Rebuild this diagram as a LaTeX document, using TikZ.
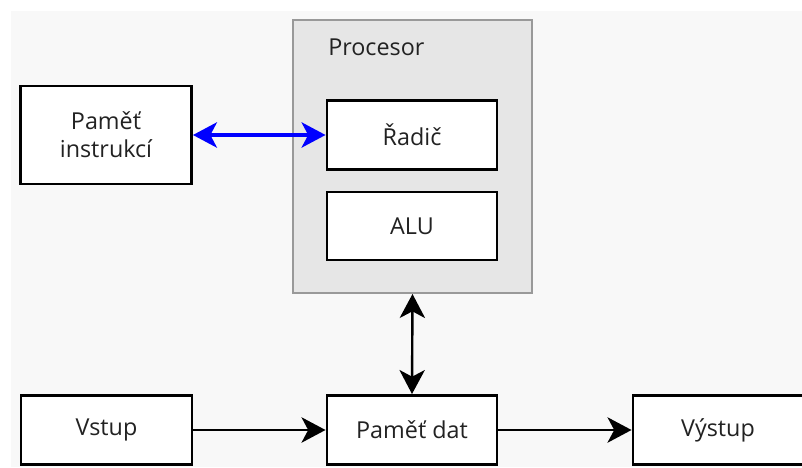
\documentclass[tikz,border=0pt]{standalone}
\usepackage{fontspec}
\setmainfont{Open Sans}
\usetikzlibrary{arrows.meta}
\definecolor{bgc}{HTML}{F8F8F8}
\definecolor{procfill}{HTML}{E6E6E6}
\definecolor{procline}{HTML}{999999}
\definecolor{txt}{HTML}{222222}
\begin{document}
\begin{tikzpicture}[x=0.75pt,y=-0.75pt,
  lbl/.style={font=\fontsize{17.5}{21}\selectfont,text=txt},
  blk/.style={draw=black,fill=white,line width=2.2pt,inner sep=0pt,lbl,align=center},
  conn/.style={line width=2pt,-{Stealth[length=18pt,width=19pt,inset=5pt]}},
  biconn/.style={line width=1.8pt,{Stealth[length=18pt,width=19pt,inset=5pt]}-{Stealth[length=18pt,width=19pt,inset=5pt]}}]
\useasboundingbox (0,0) rectangle (802,467);
\fill[white] (0,0) rectangle (802,467);
\fill[bgc] (11,11) rectangle (802,467);
\node[draw=procline,fill=procfill,line width=1.5pt,minimum width=239*0.75pt,minimum height=273*0.75pt,inner sep=0pt] (proc) at (412.5,156.5) {};
\node[anchor=west,lbl,inner sep=0pt] (proclbl) at (328,47) {Procesor};
\node[blk,minimum width=171*0.75pt,minimum height=98*0.75pt] (pi) at (106,135) {Paměť\\instrukcí};
\node[blk,minimum width=170*0.75pt,minimum height=69*0.75pt] (radic) at (412,135) {Řadič};
\node[blk,minimum width=170*0.75pt,minimum height=68*0.75pt] (alu) at (412,226) {ALU};
\node[blk,minimum width=171*0.75pt,minimum height=69*0.75pt] (vstup) at (106.5,430) {Vstup};
\node[blk,minimum width=170*0.75pt,minimum height=69*0.75pt] (pd) at (412,430) {Paměť dat};
\node[blk,minimum width=170*0.75pt,minimum height=69*0.75pt] (vystup) at (718,430) {Výstup};
\draw[biconn,blue,line width=2.4pt] (pi.east) -- (radic.west);
\draw[biconn] (proc.south) -- (pd.north);
\draw[conn] (vstup.east) -- (pd.west);
\draw[conn] (pd.east) -- (vystup.west);
\end{tikzpicture}
\end{document}
